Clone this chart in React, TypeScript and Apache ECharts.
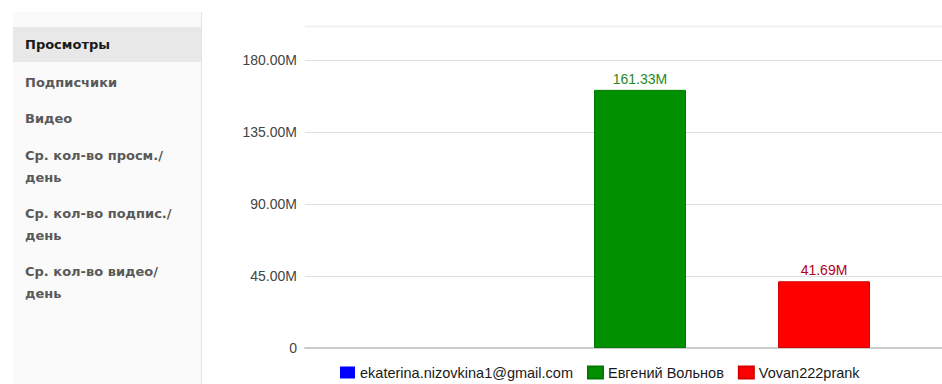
import React, { useEffect, useRef } from "react";
import * as echarts from "echarts";

const categories = ["Просмотры"];
const seriesNames = ["ekaterina.nizovkina1@gmail.com", "Евгений Вольнов", "Vovan222prank"];
const seriesValues = [0, 161.33, 41.69];
const seriesColors = ["#0000ff", "#009000", "#ff0000"];
const borderColors = ["#0000cc", "#007a00", "#d40000"];
const labelColors = ["#0000aa", "#1f8a1f", "#b3001b"];
const menuItems = [
  ["Просмотры"],
  ["Подписчики"],
  ["Видео"],
  ["Ср. кол-во просм./", "день"],
  ["Ср. кол-во подпис./", "день"],
  ["Ср. кол-во видео/", "день"],
];
const menuY = [44, 82, 118, 155, 213, 271];

const FONT = "'Liberation Sans', Arial, sans-serif";
const MENU_FONT = "'DejaVu Sans', Verdana, sans-serif";

export default function App() {
  const ref = useRef<HTMLDivElement>(null);
  useEffect(() => {
    if (!ref.current) return;
    const chart = echarts.init(ref.current, null, { renderer: "svg" });
    const graphics: any[] = [
      { type: "rect", shape: { x: 13, y: 12, width: 188, height: 372 }, style: { fill: "#fafafa" }, z: 0 },
      { type: "rect", shape: { x: 13, y: 27, width: 188, height: 35 }, style: { fill: "#e8e8e8" }, z: 1 },
      { type: "line", shape: { x1: 201.5, y1: 12, x2: 201.5, y2: 384 }, style: { stroke: "#e4e4e4", lineWidth: 1 }, z: 2 },
      { type: "line", shape: { x1: 305, y1: 26.5, x2: 942, y2: 26.5 }, style: { stroke: "#ececec", lineWidth: 1.5 }, z: 2 },
    ];
    menuItems.forEach((lines, i) => {
      lines.forEach((t, j) => {
        graphics.push({
          type: "text",
          x: 25,
          y: menuY[i] + j * 22,
          z: 3,
          style: {
            text: t,
            fontFamily: MENU_FONT,
            fontSize: 13,
            fontWeight: "bold",
            fill: i === 0 ? "#1a1a1a" : "#595959",
            verticalAlign: "middle",
            align: "left",
          },
        });
      });
    });
    chart.setOption({
      animation: false,
      textStyle: { fontFamily: FONT },
      grid: {
        left: 305,
        width: 670,
        top: 60,
        bottom: 36,
        containLabel: false,
        outerBoundsMode: "none",
      },
      legend: {
        left: 340,
        top: 365,
        padding: 0,
        itemWidth: 15,
        itemHeight: 12,
        itemGap: 14,
        icon: "rect",
        textStyle: { fontSize: 14.5, color: "#1a1a1a", fontFamily: FONT },
        data: seriesNames,
      },
      xAxis: {
        type: "category",
        data: categories,
        axisLine: { show: true, lineStyle: { color: "#cccccc", width: 2 } },
        axisTick: { show: false },
        axisLabel: { show: false },
      },
      yAxis: {
        type: "value",
        min: 0,
        max: 180,
        interval: 45,
        axisLine: { show: false },
        axisTick: { show: false },
        axisLabel: {
          margin: 8,
          fontSize: 14,
          color: "#444",
          fontFamily: FONT,
          formatter: (v: number) => (v === 0 ? "0" : v.toFixed(2) + "M"),
        },
        splitLine: { lineStyle: { color: "#dddddd", width: 1 } },
      },
      series: seriesNames.map((name, i) => ({
        name,
        type: "bar",
        data: [seriesValues[i]],
        barWidth: 92,
        barGap: "100%",
        itemStyle: {
          color: seriesColors[i],
          borderColor: borderColors[i],
          borderWidth: seriesValues[i] ? 1 : 0,
        },
        label: {
          show: true,
          position: "top",
          distance: 4,
          fontSize: 14,
          fontFamily: FONT,
          color: labelColors[i],
          formatter: (p: any) => (p.value ? p.value.toFixed(2) + "M" : ""),
        },
      })),
      graphic: graphics,
    });
    return () => chart.dispose();
  }, []);
  return (
    <div
      ref={ref}
      style={{ position: "fixed", left: 0, top: 0, width: 942, height: 384, background: "#fff" }}
    />
  );
}
